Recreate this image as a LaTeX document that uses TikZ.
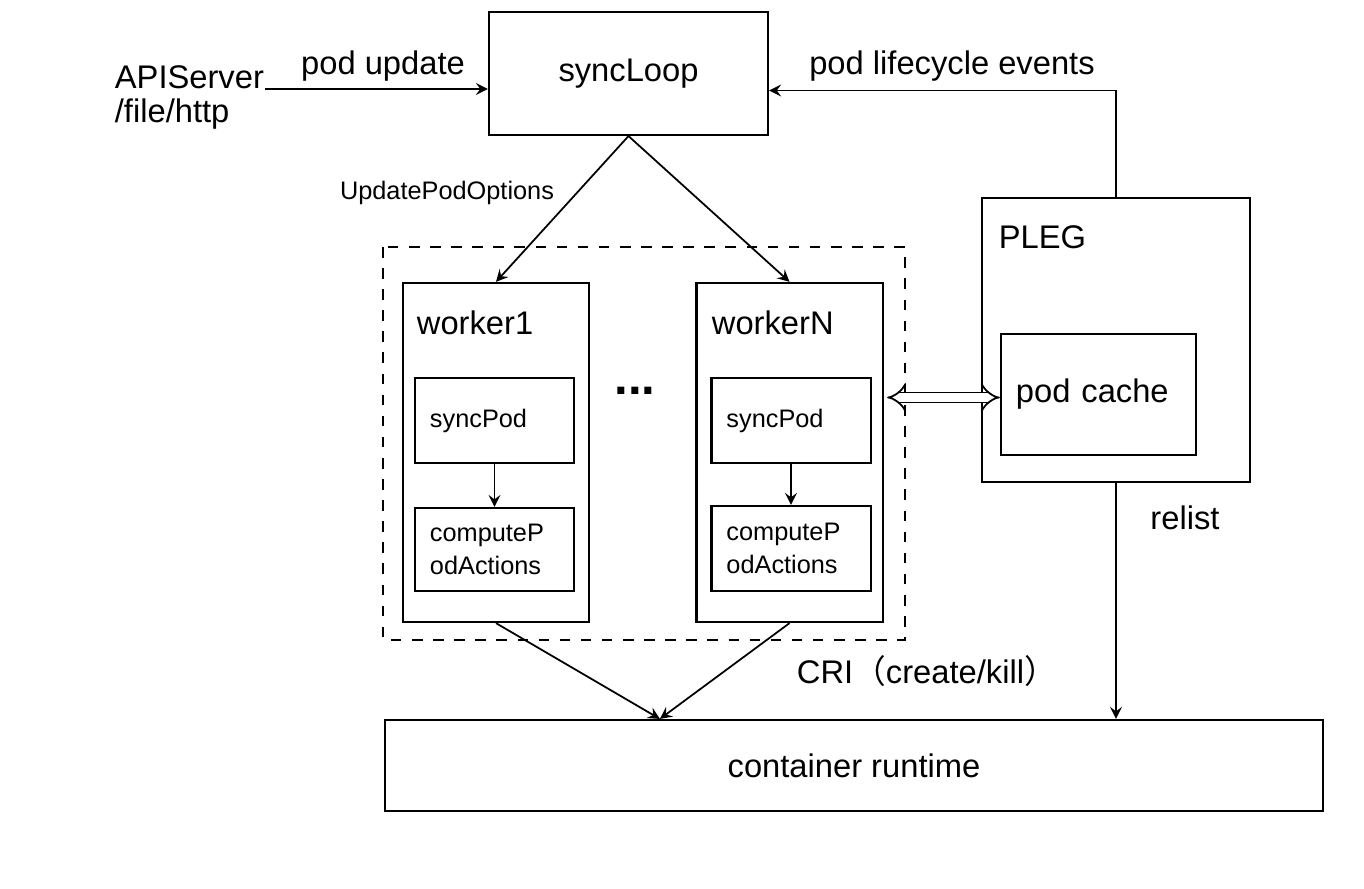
\documentclass[tikz,border=0pt]{standalone}
\usepackage{fontspec}
\setmainfont{Liberation Sans}
\newfontfamily\cjk{Noto Sans CJK SC}
\usetikzlibrary{arrows.meta,positioning}

\tikzset{
  box/.style={draw,line width=0.6pt,inner sep=0pt},
  big/.style={font=\fontsize{9.3}{12}\selectfont},
  small/.style={font=\fontsize{7.2}{9.6}\selectfont},
  inbox/.style={box,small,minimum width=1.59cm,inner xsep=0.15cm,text width=1.29cm,align=left},
  hollow/.style={double,double distance=2.4pt,line width=0.5pt,{Implies}-{Implies}}
}

\begin{document}
\begin{tikzpicture}[x=0.01cm,y=-0.01cm,>=stealth,line width=0.5pt]

	\useasboundingbox (0,0) rectangle (1364,889);
	
	% syncLoop and its inputs
	\node[box,big,minimum width=2.79cm,minimum height=1.23cm] (sync) at (628.5,73.5) {syncLoop};
	\node[big,anchor=base west,inner sep=0pt] (api) at (114,89) {APIServer};
	\node[big,anchor=base west,inner sep=0pt] (src) at (114,123) {/file/http};
	\node[big] (upd) at (383,66) {pod update};
	\node[big] (evt) at (952,66) {pod lifecycle events};
	\coordinate (in2) at ([yshift=-0.17cm]sync.east);
	
	% worker pool
	\draw[dashed,line width=0.6pt] (383,247) rectangle (905,640);
	\node[box,minimum width=1.86cm,minimum height=3.39cm] (w1) at (496,452.5) {};
	\node[box,minimum width=1.86cm,minimum height=3.39cm] (wN) at (789.5,452.5) {};
	\node[big,anchor=west,inner sep=0pt] (w1t) at (416,323) {worker1};
	\node[big,anchor=west,inner sep=0pt] (wNt) at (711,323) {workerN};
	\node[inbox,minimum height=0.85cm] (sp1) at (494.5,420.5) {syncPod};
	\node[inbox,minimum height=0.83cm] (cp1) at (494.5,549.5) {computeP\\odActions};
	\node[inbox,minimum height=0.85cm] (spN) at (791,420.5) {syncPod};
	\node[inbox,minimum height=0.85cm] (cpN) at (791,548.5) {computeP\\odActions};
	\node[font=\fontsize{14}{14}\selectfont\bfseries] (dots) at (635,391) {...};
	\node[small] (opts) at (447,193) {UpdatePodOptions};
	
	% PLEG
	\node[box,minimum width=2.68cm,minimum height=2.84cm] (pleg) at (1116,340) {};
	\node[big,anchor=west,inner sep=0pt] (plegt) at (998,237) {PLEG};
	\node[box,big,minimum width=1.95cm,minimum height=1.21cm,inner xsep=0.15cm,text width=1.65cm,align=left] (cache) at (1098.5,394.5) {pod cache};
	
	% runtime
	\node[big] (relist) at (1185,518) {relist};
	\node[big,anchor=west,inner sep=0pt] (cri) at (796,671) {CRI{\cjk （}create/kill{\cjk ）}};
	\node[box,big,minimum width=9.38cm,minimum height=0.91cm] (rt) at (854,765.5) {container runtime};
	\coordinate (join) at ([xshift=-1.94cm]rt.north);
	
	% connectors
	\draw[->] (api.base east) -- (api.base east -| sync.west);
	\draw[->] (pleg.north) |- (in2);
	\draw[->] (sync.south) -- (w1.north);
	\draw[->] (sync.south) -- (wN.north);
	\draw[->] (sp1) -- (cp1);
	\draw[->] (spN) -- (cpN);
	\draw[hollow] ([xshift=1pt,yshift=-0.03cm]wN.east |- cache.west) -- ([yshift=-0.03cm]cache.west);
	\draw[->] (w1.south) -- (join);
	\draw[->] (wN.south) -- (join);
	\draw[->] (pleg.south) -- (pleg.south |- rt.north);

\end{tikzpicture}
\end{document}
